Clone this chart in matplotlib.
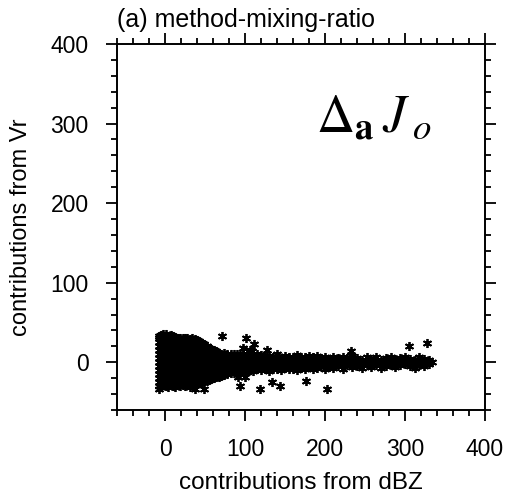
import matplotlib
matplotlib.use("Agg")
import matplotlib.pyplot as plt
from matplotlib.ticker import MultipleLocator

plt.rcParams['font.family'] = ['Liberation Sans', 'DejaVu Sans']
plt.rcParams['mathtext.fontset'] = 'stix'

# columns of points: x position and the y values found at it
col_x = [-8, -5, -2, 1, 4, 7, 10, 13, 16, 19, 22, 25, 28, 31, 34, 37, 40, 43, 46, 49,
         52, 55, 58, 61, 64, 67, 70, 74, 78, 82, 86, 90, 94, 98, 102, 106, 110, 115, 120, 125,
         130, 135, 140, 145, 150, 155, 160, 165, 170, 175, 180, 185, 190, 195, 200, 205, 210, 216, 222, 228,
         234, 240, 246, 252, 258, 264, 270, 276, 282, 288, 294, 300, 306, 312, 318, 324, 330, 334]
col_y = [
    [-30, -25, -20, -15, -10, -5, 0, 5, 10, 15, 20, 25, 30, 33],
    [-31, -26, -21, -16, -11, -6, -1, 4, 9, 14, 19, 24, 29, 34],
    [-29, -24, -19, -14, -9, -4, 1, 6, 11, 16, 21, 26, 31, 35],
    [-30, -25, -20, -15, -10, -5, 0, 5, 10, 15, 20, 25, 30, 35],
    [-31, -26, -21, -16, -11, -6, -1, 4, 9, 14, 19, 24, 29, 33],
    [-29, -24, -19, -14, -9, -4, 1, 6, 11, 16, 21, 26, 31, 34],
    [-30, -25, -20, -15, -10, -5, 0, 5, 10, 15, 20, 25, 30, 33],
    [-31, -26, -21, -16, -11, -6, -1, 4, 9, 14, 19, 24, 29, 32],
    [-29, -24, -19, -14, -9, -4, 1, 6, 11, 16, 21, 26, 31],
    [-30, -25, -20, -15, -10, -5, 0, 5, 10, 15, 20, 25, 30],
    [-28, -23, -18, -13, -8, -3, 2, 7, 12, 17, 22, 27, 31],
    [-30, -25, -20, -15, -10, -5, 0, 5, 10, 15, 20, 25, 30],
    [-29, -24, -19, -14, -9, -4, 1, 6, 11, 16, 21, 26, 31],
    [-31, -26, -21, -16, -11, -6, -1, 4, 9, 14, 19, 24, 29],
    [-28, -23, -18, -13, -8, -3, 2, 7, 12, 17, 22, 27, 30],
    [-29, -24, -19, -14, -9, -4, 1, 6, 11, 16, 21, 26, 29],
    [-27, -22, -17, -12, -7, -2, 3, 8, 13, 18, 23, 28],
    [-26, -21, -16, -11, -6, -1, 4, 9, 14, 19, 24, 27],
    [-25, -20, -15, -10, -5, 0, 5, 10, 15, 20, 24],
    [-24, -19, -14, -9, -4, 1, 6, 11, 16, 21, 23],
    [-23, -18, -13, -8, -3, 2, 7, 12, 17, 20],
    [-22, -17, -12, -7, -2, 3, 8, 13, 18],
    [-21, -16, -11, -6, -1, 4, 9, 14, 17],
    [-20, -15, -10, -5, 0, 5, 10, 15],
    [-19, -14, -9, -4, 1, 6, 11, 14],
    [-18, -13, -8, -3, 2, 7, 12],
    [-17, -12, -7, -2, 3, 8, 11],
    [-16, -11, -6, -1, 4, 9, 12],
    [-15, -10, -5, 0, 5, 10],
    [-14, -9, -4, 1, 6, 11],
    [-13, -8, -3, 2, 7, 10],
    [-12, -7, -2, 3, 8, 11],
    [-13, -8, -3, 2, 7, 10],
    [-11, -6, -1, 4, 9],
    [-12, -7, -2, 3, 8, 11],
    [-10, -5, 0, 5, 9],
    [-11, -6, -1, 4, 8],
    [-9, -4, 1, 6, 10],
    [-10, -5, 0, 5, 9],
    [-8, -3, 2, 7],
    [-11, -6, -1, 4, 8],
    [-9, -4, 1, 6],
    [-8, -3, 2, 7, 10],
    [-10, -5, 0, 5],
    [-7, -2, 3, 8],
    [-9, -4, 1, 6],
    [-8, -3, 2, 7],
    [-10, -5, 0, 5, 9],
    [-7, -2, 3, 7],
    [-9, -4, 1, 6],
    [-6, -1, 4, 8],
    [-8, -3, 2, 6],
    [-7, -2, 3, 8],
    [-5, 0, 5],
    [-8, -3, 2, 7],
    [-6, -1, 4],
    [-7, -2, 3, 7],
    [-5, 0, 5],
    [-8, -3, 2, 6],
    [-4, 1, 5],
    [-6, -1, 4, 8],
    [-5, 0, 5],
    [-7, -2, 3],
    [-4, 1, 6],
    [-6, -1, 4],
    [-3, 2, 7],
    [-7, -2, 3],
    [-5, 0, 5],
    [-3, 2, 6],
    [-6, -1, 4],
    [-4, 1, 5],
    [-2, 3, 7],
    [-5, 0, 4],
    [-7, -2, 3],
    [-3, 2, 6],
    [-5, 0, 4],
    [-2, 3],
    [0],
]

# scattered points away from the main cloud
out_x = [71, 101, 111, 98, 106, 109, 127, 91, 100, 94, 119, 134, 144, 176, 49, 37, -7,
         233, 305, 327, 202]
out_y = [33, 30, 23, 18, 16, 14, 15, -19, -18, -30, -34, -25, -30, -24, -33, -34, -34,
         14, 20, 24, -34]

xs = []
ys = []
for x, yl in zip(col_x, col_y):
    for y in yl:
        xs.append(x)
        ys.append(y)
xs += out_x
ys += out_y

fig = plt.figure(figsize=(5.05, 4.98), dpi=100)
ax = fig.add_axes([0.2317, 0.1767, 0.7287, 0.7349])

ax.plot(xs, ys, linestyle="none", marker=(6, 2, 0), markersize=6.5,
        markeredgewidth=1.3, color="black")

ax.set_xlim(-60, 400)
ax.set_ylim(-60, 400)
ax.xaxis.set_major_locator(MultipleLocator(100))
ax.xaxis.set_minor_locator(MultipleLocator(20))
ax.yaxis.set_major_locator(MultipleLocator(100))
ax.yaxis.set_minor_locator(MultipleLocator(20))
ax.tick_params(which="both", direction="out", top=True, right=True, width=1.3)
ax.tick_params(which="major", length=8, labelsize=16.5, pad=12.5)
ax.tick_params(which="minor", length=4)
for s in ax.spines.values():
    s.set_linewidth(1.4)

ax.set_xlabel("contributions from dBZ", fontsize=17.5)
ax.set_ylabel("contributions from Vr", fontsize=17)
ax.xaxis.set_label_coords(0.5, -0.17)
ax.yaxis.set_label_coords(-0.232, 0.5)
ax.set_title("(a) method-mixing-ratio", loc="left", fontsize=18, pad=12)

ax.text(0.54, 0.76, r"$\Delta_{\mathbf{a}}\,J\,{}_{o}$", transform=ax.transAxes,
        fontsize=38, ha="left", va="baseline")

fig.savefig("out.png", dpi=100)
